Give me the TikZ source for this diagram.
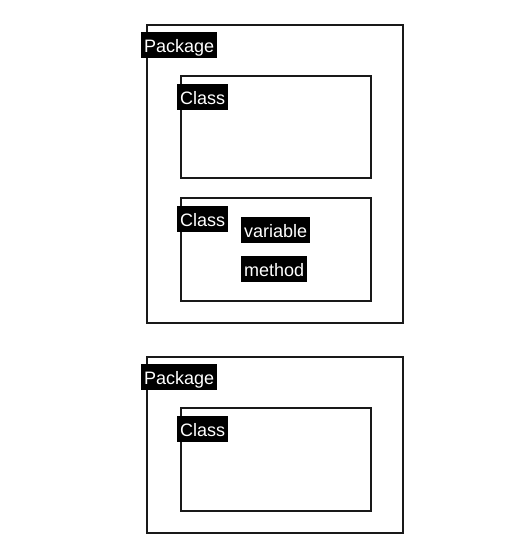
\documentclass[tikz,border=0pt]{standalone}
\usepackage{fontspec}
\setmainfont{Liberation Sans}
\begin{document}
\begin{tikzpicture}[x=1pt,y=-1pt,
  box/.style={draw=black!90, line width=2pt, anchor=north west, inner sep=0pt},
  tag/.style={fill=black, text=white, anchor=north west, inner xsep=3pt, inner ysep=0pt,
    minimum height=26pt, text height=17pt, text depth=3pt, font=\fontsize{18}{20}\selectfont}]
\useasboundingbox (0,0) rectangle (528,550);
% boxes
\node[box, minimum width=256pt, minimum height=298pt] (p1) at (146,24) {};
\node[box, minimum width=190pt, minimum height=102pt] (c1) at (180,75) {};
\node[box, minimum width=190pt, minimum height=103pt] (c2) at (180,197) {};
\node[box, minimum width=256pt, minimum height=176pt] (p2) at (146,356) {};
\node[box, minimum width=190pt, minimum height=103pt] (c3) at (180,407) {};
% labels
\node[tag] (p1l) at (141,32) {Package};
\node[tag] (c1l) at (177,84) {Class};
\node[tag] (c2l) at (177,206) {Class};
\node[tag] (var) at (241,217) {variable};
\node[tag] (met) at (241,256) {method};
\node[tag] (p2l) at (141,364) {Package};
\node[tag] (c3l) at (177,416) {Class};
\end{tikzpicture}
\end{document}
